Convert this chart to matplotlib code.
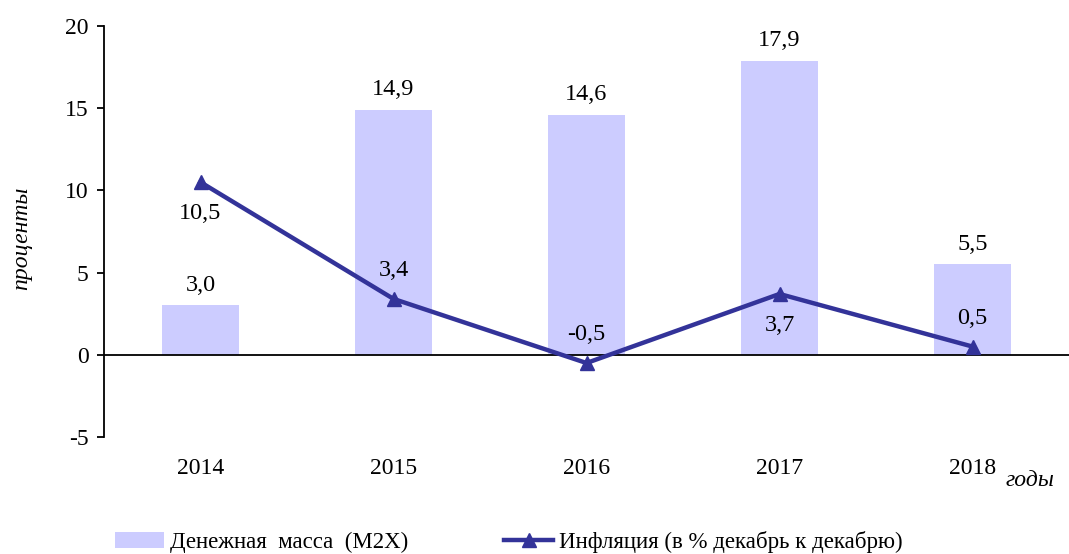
import matplotlib
matplotlib.use("Agg")
import matplotlib.pyplot as plt
import numpy as np

years = ["2014", "2015", "2016", "2017", "2018"]
money_supply = [3.0, 14.9, 14.6, 17.9, 5.5]
inflation = [10.5, 3.4, -0.5, 3.7, 0.5]
# label placement for the inflation series: +1 above, -1 below the marker
inflation_label_side = [-1, 1, 1, -1, 1]

y_ticks = [-5, 0, 5, 10, 15, 20]

def fmt(v):
    return f"{v:.1f}".replace(".", ",")

plt.rcParams["font.family"] = ["Liberation Serif", "DejaVu Serif"]
plt.rcParams["font.size"] = 17

fig = plt.figure(figsize=(10.69, 5.54), dpi=100)
ax = fig.add_axes([104 / 1069, 117 / 554, 965 / 1069, 411 / 554])

x = np.arange(len(years))
bar_color = "#CCCCFF"
line_color = "#333399"

bars = ax.bar(x, money_supply, width=0.4, color=bar_color, zorder=1,
              label="Денежная  масса  (М2Х)")
line, = ax.plot(x, inflation, color=line_color, lw=3.2, marker="^",
                markersize=10, zorder=3,
                label="Инфляция (в % декабрь к декабрю)")

for xi, v in zip(x, money_supply):
    ax.annotate(fmt(v), (xi, v), xytext=(0, 7), textcoords="offset points",
                ha="center", va="bottom", fontsize=17.5, zorder=4)

for xi, v, side in zip(x, inflation, inflation_label_side):
    ax.annotate(fmt(v), (xi, v), xytext=(0, 13 * side if side > 0 else -15),
                textcoords="offset points",
                ha="center", va="bottom" if side > 0 else "top",
                fontsize=17.5, zorder=4)

ax.axhline(0, color="black", lw=1.3, zorder=2)

ax.set_xlim(-0.5, len(years) - 0.5)
ax.set_ylim(-5, 20)
ax.set_yticks(y_ticks)
ax.set_yticklabels([str(t) for t in y_ticks])
ax.set_xticks(x)
ax.set_xticklabels(years)

for s in ("top", "right", "bottom"):
    ax.spines[s].set_visible(False)
ax.spines["left"].set_linewidth(1.3)
ax.tick_params(axis="y", direction="out", length=5, width=1.3, pad=6, labelsize=17)
ax.tick_params(axis="x", length=0, pad=15, labelsize=17)

fig.text(22 / 1069, 1 - 238 / 554, "проценты", fontstyle="italic",
         fontsize=17, rotation=90, ha="center", va="center")
fig.text(1030 / 1069, 1 - 480 / 554, "годы", fontstyle="italic",
         fontsize=17, ha="center", va="center")

fig.legend(handles=[bars, line], loc="lower left",
           bbox_to_anchor=(94 / 1069, -0.035), ncol=2, frameon=False,
           handlelength=2.15, handletextpad=0.25, columnspacing=4.2,
           fontsize=16.5)

fig.savefig("out.png", dpi=100)
